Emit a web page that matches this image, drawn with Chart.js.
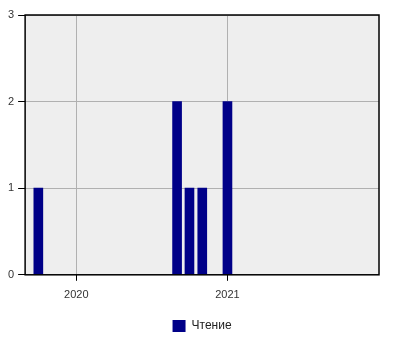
<!doctype html>
<html lang="ru">
    <head>
        <meta charset="UTF-8" />
        <title>Чтение</title>
        <script src="https://cdn.jsdelivr.net/npm/chart.js"></script>
        <style>
            body { margin: 0; background: #fff; }
            #wrap { width: 400px; height: 350px; }
        </style>
    </head>
    <body>
        <div id="wrap"><canvas id="myChart"></canvas></div>
        <script>
            // months (year, month 1-12) and how many items in each
            var months = [[2019, 10], [2020, 9], [2020, 10], [2020, 11], [2021, 1]];
            var counts = [1, 2, 1, 1, 2];
            var tickYears = [2020, 2021];
            var seriesLabel = "Чтение";

            function day(y, m, d) {
                return Date.UTC(y, m - 1, d);
            }

            var points = months.map(function (m, i) {
                return { x: day(m[0], m[1], 1), y: counts[i] };
            });

            var plotFrame = {
                id: "plotFrame",
                afterLayout: function (chart) {
                    // center the legend under the plot area, not the whole canvas
                    if (chart.legend) {
                        chart.legend.left = chart.chartArea.left;
                        chart.legend.right = chart.chartArea.right;
                    }
                },
                beforeDraw: function (chart) {
                    var a = chart.chartArea;
                    var ctx = chart.ctx;
                    ctx.save();
                    ctx.fillStyle = "#eeeeee";
                    ctx.fillRect(a.left, a.top, a.right - a.left, a.bottom - a.top);
                    ctx.restore();
                },
                afterDraw: function (chart) {
                    var a = chart.chartArea;
                    var ctx = chart.ctx;
                    ctx.save();
                    ctx.strokeStyle = "#000";
                    ctx.lineWidth = 1.5;
                    ctx.strokeRect(a.left, a.top, a.right - a.left, a.bottom - a.top);
                    ctx.restore();
                }
            };

            var ctx = document.getElementById("myChart").getContext("2d");
            new Chart(ctx, {
                type: "bar",
                data: {
                    datasets: [
                        {
                            label: seriesLabel,
                            data: points,
                            backgroundColor: "#000088",
                            borderWidth: 0,
                            barThickness: 9
                        }
                    ]
                },
                options: {
                    responsive: true,
                    maintainAspectRatio: false,
                    animation: false,
                    layout: { padding: { left: 4, right: 21, top: 15, bottom: 8 } },
                    plugins: {
                        tooltip: { enabled: false },
                        legend: {
                            position: "bottom",
                            labels: {
                                boxWidth: 13,
                                boxHeight: 12,
                                padding: 10,
                                color: "#222",
                                font: { family: "Liberation Sans", size: 12 }
                            }
                        }
                    },
                    scales: {
                        x: {
                            type: "linear",
                            offset: false,
                            min: day(2019, 8, 30),
                            max: day(2022, 1, 3),
                            afterBuildTicks: function (scale) {
                                scale.ticks = tickYears.map(function (y) {
                                    return { value: day(y, 1, 1) };
                                });
                            },
                            ticks: {
                                padding: 8,
                                color: "#333",
                                font: { family: "Liberation Sans", size: 11 },
                                callback: function (v) {
                                    return new Date(v).getUTCFullYear();
                                }
                            },
                            grid: { offset: false, color: "#b0b0b0", tickColor: "#000", tickLength: 6 },
                            border: { display: false }
                        },
                        y: {
                            min: 0,
                            max: 3,
                            ticks: {
                                stepSize: 1,
                                padding: 4,
                                color: "#333",
                                font: { family: "Liberation Sans", size: 11 }
                            },
                            grid: { color: "#b0b0b0", tickColor: "#000", tickLength: 7 },
                            border: { display: false }
                        }
                    }
                },
                plugins: [plotFrame]
            });
        </script>
    </body>
</html>
